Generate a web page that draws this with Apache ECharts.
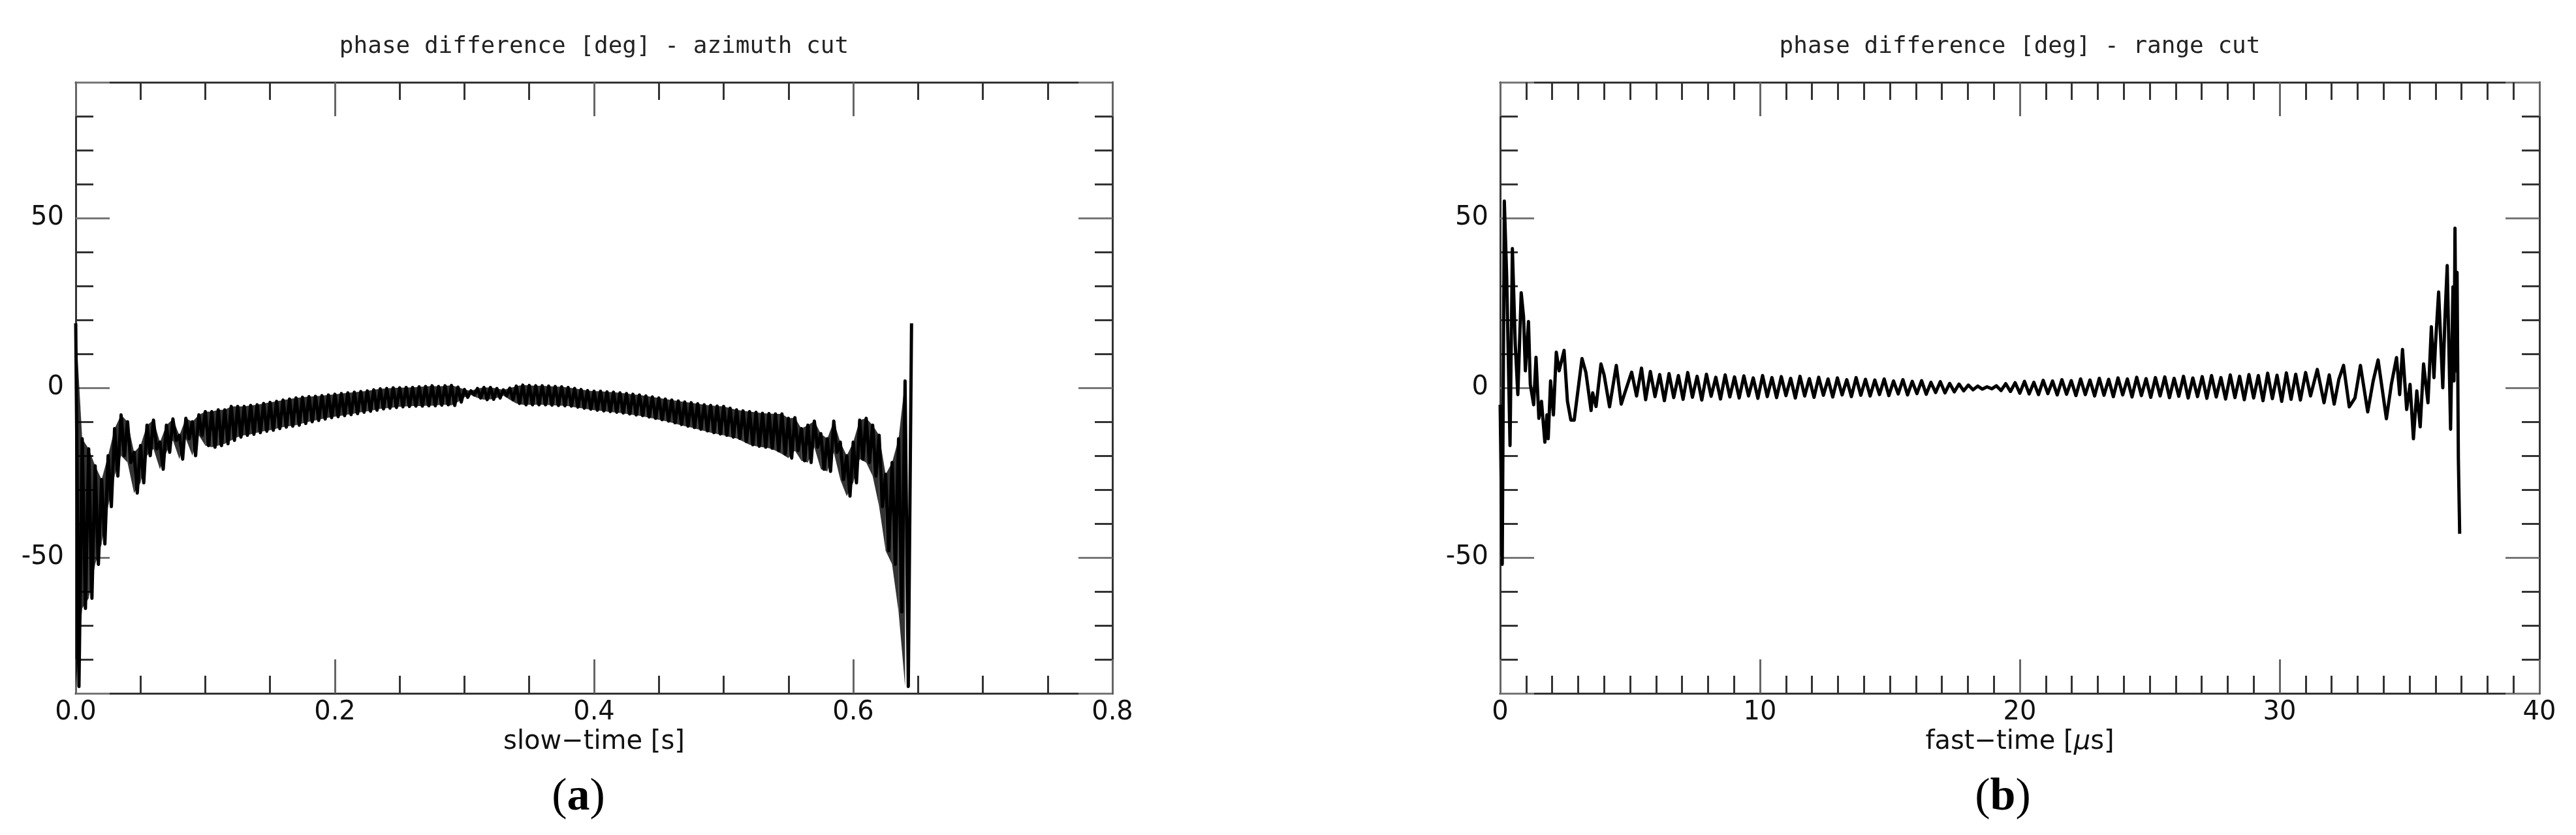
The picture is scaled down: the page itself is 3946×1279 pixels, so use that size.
<!DOCTYPE html>
<html>
<head>
<meta charset="utf-8">
<style>
  html, body { margin: 0; padding: 0; background: #fff; }
  #chart { width: 3946px; height: 1279px; }
</style>
<script src="https://cdn.jsdelivr.net/npm/echarts@6/dist/echarts.min.js"></script>
</head>
<body>
<div id="chart"></div>
<script>
// (a) azimuth cut: top and bottom of the dense band, read every 5 ms
const azStep = 0.005
const azHi = [
  19, -15, -18, -23, -27, -20, -12, -8, -10, -19,
  -17, -11, -9.5, -16, -11, -9.2, -14, -9, -10, -8,
  -7, -7, -6.5, -6.5, -5.5, -5.5, -5.5, -5.2, -5, -4.6,
  -4.3, -4, -3.6, -3.3, -3, -2.8, -2.6, -2.5, -2.3, -2.1,
  -1.9, -1.7, -1.5, -1.3, -1.1, -0.9, -0.6, -0.3, -0.2, 0,
  0, 0.1, 0.1, 0.3, 0.4, 0.6, 0.4, 0.6, 0.7, 0.2,
  -0.5, -0.9, -0.2, 0.1, 0.1, -0.2, -0.6, -0.1, 0.5, 0.8,
  0.7, 0.6, 0.6, 0.5, 0.4, 0.3, 0.1, -0.2, -0.5, -0.8,
  -1, -1, -1.2, -1.3, -1.5, -1.7, -1.9, -2.1, -2.4, -2.7,
  -3, -3.3, -3.6, -3.9, -4.2, -4.4, -4.7, -5, -5.2, -5.4,
  -5.5, -6, -6.5, -6.8, -7, -7.2, -7.5, -7.6, -7.7, -7.7,
  -9, -8.8, -12, -11, -9.8, -13.5, -15, -9.8, -16, -20,
  -16, -9.5, -9, -11, -14, -25.5, -22, -15, 2, 19
]
const azLo = [
  -88, -65, -62, -52, -46, -35, -26, -20, -22, -31,
  -28, -20, -18, -24, -19, -15.5, -21, -15, -20, -14,
  -17, -17.5, -17, -16.5, -15.5, -14.5, -14, -13.7, -13.2, -12.8,
  -12.5, -12, -11.6, -11.3, -11, -10.5, -10, -9.6, -9.2, -8.8,
  -8.5, -8.2, -7.9, -7.6, -7.2, -6.9, -6.6, -6.2, -6, -5.8,
  -5.6, -5.5, -5.4, -5.4, -5.3, -5.3, -5.1, -5, -5.2, -4.2,
  -2.8, -2.1, -3, -3.5, -3.4, -3, -2.3, -3.5, -4.6, -5,
  -5, -5, -5, -5.1, -5.2, -5.3, -5.4, -5.7, -6, -6.3,
  -6.6, -6.8, -7, -7.2, -7.4, -7.7, -8, -8.2, -8.6, -9,
  -9.4, -9.8, -10.3, -10.8, -11.3, -11.7, -12.2, -12.7, -13.2, -13.6,
  -14, -14.5, -14.9, -15.8, -16.8, -17.2, -17.5, -17.8, -18.5, -19.5,
  -20.7, -18.5, -21.5, -22, -17.5, -24, -24.6, -19, -27, -31.9,
  -28, -21, -22, -26, -35, -48, -52, -66, -88
]

// (b) range cut: start and end read peak by peak, middle read every 0.18 us
const rgHeadTime = [0, 0.08, 0.16, 0.25, 0.38, 0.47, 0.58, 0.68, 0.81, 0.9, 0.97, 1.09, 1.16, 1.29, 1.38,
  1.49, 1.59, 1.72, 1.8, 1.85, 1.94, 2.05, 2.16, 2.27, 2.46, 2.59, 2.72, 2.85, 3.04, 3.15, 3.3, 3.5, 3.56,
  3.69, 3.88, 4.0, 4.21, 4.47, 4.66, 4.79, 5.06, 5.25, 5.44]
const rgHeadPhase = [-5, -52, 55, 33, -17, 41, 13, -2, 28, 21, 5, 19.5, 1, -5, 9,
  -9, -4, -16, -8, -15, 2, -8, 10.5, 5, 11, -4, -9.5, -9.5, 2, 8.6, 4.5, -6.7, -1.5,
  -5.5, 7, 3.8, -5.6, 6.6, -4.8, -1.7, 4.6, -2.4, 5.8]
const rgMidStart = 5.6
const rgMidStep = 0.18
const rgMidPhase = [
  -3.5, 4.8, -2.6, 3.9, -3.8, 4.2, -2.9, 3.6, -3.4, 4.5,
  -2.8, 3.4, -3.6, 4.0, -2.5, 3.1, -3.3, 3.8, -2.7, 3.2,
  -3.0, 3.5, -2.4, 2.9, -3.1, 3.6, -2.6, 3.0, -2.9, 3.3,
  -2.3, 2.8, -3.0, 3.4, -2.4, 2.7, -2.8, 3.1, -2.2, 2.6,
  -2.7, 2.9, -2.1, 2.4, -2.6, 3.0, -2.2, 2.5, -2.4, 2.3,
  -2.0, 2.6, -2.3, 2.0, -1.8, 2.4, -2.1, 1.9, -1.7, 2.1,
  -1.9, 1.6, -1.4, 1.8, -1.5, 1.3, -1.2, 1.1, -0.9, 0.8,
  -0.6, 0.5, -0.4, 0.3, -0.3, 0.6, -0.8, 1.2, -1.1, 1.5,
  -1.6, 1.9, -1.8, 1.6, -2.0, 2.2, -1.7, 2.0, -2.1, 2.4,
  -1.9, 2.1, -2.3, 2.6, -2.0, 2.3, -2.4, 2.8, -2.2, 2.5,
  -2.6, 2.9, -2.1, 2.6, -2.7, 3.1, -2.3, 2.7, -2.8, 3.0,
  -2.4, 3.2, -2.9, 2.8, -2.5, 3.4, -3.0, 2.9, -2.6, 3.3,
  -3.1, 3.6, -2.7, 3.0, -3.3, 3.8, -2.9, 3.4, -3.5, 3.9,
  -3.0, 3.6, -3.8, 4.3, -3.2, 3.7, -4.0, 4.4, -3.4, 4.0,
  -3.6
]
const rgTailTime = [31.0, 31.19, 31.45, 31.71, 31.91, 32.1, 32.28, 32.46, 32.68, 32.9,
  33.11, 33.39, 33.6, 33.79, 34.11, 34.3, 34.5, 34.62, 34.73, 34.89,
  35.02, 35.15, 35.28, 35.41, 35.54, 35.71, 35.84, 35.94, 36.0, 36.12,
  36.28, 36.36, 36.45, 36.58, 36.67, 36.71, 36.75, 36.79, 36.83, 36.88, 36.93]
const rgTailPhase = [4.5, -2.4, 5.4, -4.4, 3.8, -4.8, 2.5, 6.6, -5.6, -3,
  6.6, -7.1, 2, 8.2, -9.1, 1, 8.9, -2, 11.3, -6.4,
  1, -15, -0.9, -11.5, 7, -4.4, 18, 3, 13, 28.2,
  0, 20, 36, -12.2, 29.7, 2, 47, 5, 34, -21, -43]

const yLabels = [-50, 0, 50]

// zigzag through the band; the band itself is shaded underneath
const azData = []
azHi.forEach((hi, k) => {
  azData.push([k * azStep, hi])
  if (k < azLo.length) azData.push([k * azStep + azStep / 2, azLo[k]])
})
const azBand = azLo.map((lo, k) => [k * azStep, lo, azHi[k]])

const rgData = []
rgHeadTime.forEach((t, i) => rgData.push([t, rgHeadPhase[i]]))
rgMidPhase.forEach((v, i) => rgData.push([+(rgMidStart + i * rgMidStep).toFixed(3), v]))
rgTailTime.forEach((t, i) => rgData.push([t, rgTailPhase[i]]))

const frame = '#333'
const tickFont = { fontFamily: 'DejaVu Sans', fontSize: 40, color: '#111' }

function xAxes(grid, max, interval, minorSplit, fmt, name) {
  const base = {
    gridIndex: grid, type: 'value', min: 0, max: max, interval: interval,
    axisLine: { show: true, onZero: false, lineStyle: { color: frame, width: 3 } },
    axisTick: { show: true, inside: true, length: 52, lineStyle: { color: '#666', width: 3 } },
    minorTick: { show: true, splitNumber: minorSplit, length: 27, lineStyle: { color: frame, width: 3 } },
    splitLine: { show: false }
  }
  return [
    Object.assign({}, base, {
      position: 'bottom',
      axisLabel: Object.assign({ margin: 10, showMinLabel: true, showMaxLabel: true, formatter: fmt }, tickFont),
      name: name, nameLocation: 'middle', nameGap: 38,
      nameTextStyle: Object.assign({
        rich: { i: { fontFamily: 'DejaVu Sans', fontSize: 40, fontStyle: 'italic', color: '#111' } }
      }, tickFont)
    }),
    Object.assign({}, base, { position: 'top', axisLabel: { show: false } })
  ]
}

function yAxes(grid) {
  const base = {
    gridIndex: grid, type: 'value', min: -90, max: 90, splitNumber: 4,
    axisLine: { show: true, onZero: false, lineStyle: { color: frame, width: 3 } },
    axisTick: { show: true, inside: true, length: 52, lineStyle: { color: '#777', width: 3 } },
    minorTick: { show: true, splitNumber: 5, length: 27, lineStyle: { color: frame, width: 3 } },
    splitLine: { show: false }
  }
  return [
    Object.assign({}, base, {
      position: 'left',
      axisLabel: Object.assign({
        margin: 18,
        formatter: v => (yLabels.indexOf(v) >= 0 ? String(v) : '')
      }, tickFont)
    }),
    Object.assign({}, base, { position: 'right', axisLabel: { show: false } })
  ]
}

function caption(x, letter) {
  return {
    type: 'text', x: x, y: 1222,
    style: {
      text: '{n|(}{b|' + letter + '}{n|)}',
      rich: {
        n: { fontFamily: 'Liberation Serif', fontSize: 70, fill: '#000' },
        b: { fontFamily: 'Liberation Serif', fontSize: 70, fontWeight: 'bold', fill: '#000' }
      },
      align: 'center', verticalAlign: 'middle', textAlign: 'center', textVerticalAlign: 'middle'
    }
  }
}

function title(x, text) {
  return {
    type: 'text', x: x, y: 72,
    style: {
      text: text, fontFamily: 'DejaVu Sans Mono', fontSize: 36, fill: '#222',
      align: 'center', verticalAlign: 'middle', textAlign: 'center', textVerticalAlign: 'middle'
    }
  }
}

// one shaded quad between consecutive band samples
function renderBand(params, api) {
  const i = params.dataIndex
  if (i >= azBand.length - 1) return
  const a = azBand[i]
  const b = azBand[i + 1]
  return {
    type: 'polygon',
    shape: { points: [api.coord([a[0], a[2]]), api.coord([b[0], b[2]]), api.coord([b[0], b[1]]), api.coord([a[0], a[1]])] },
    style: { fill: '#000', opacity: 0.8, stroke: 'none' }
  }
}

const chart = echarts.init(document.getElementById('chart'))
const option = {
  backgroundColor: '#fff',
  animation: false,
  grid: [
    { left: 116, top: 126, width: 1588, height: 936, outerBoundsMode: 'none' },
    { left: 2298, top: 126, width: 1592, height: 936, outerBoundsMode: 'none' }
  ],
  xAxis: [].concat(
    xAxes(0, 0.8, 0.2, 4, v => v.toFixed(1), 'slow−time [s]'),
    xAxes(1, 40, 10, 10, v => String(v), 'fast−time [{i|μ}s]')
  ),
  yAxis: [].concat(yAxes(0), yAxes(1)),
  series: [
    {
      type: 'custom', xAxisIndex: 0, yAxisIndex: 0, data: azBand,
      encode: { x: 0, y: [1, 2] }, renderItem: renderBand, silent: true
    },
    {
      type: 'line', xAxisIndex: 0, yAxisIndex: 0, data: azData,
      symbol: 'none', showSymbol: false,
      lineStyle: { color: '#000', width: 5, join: 'round' }
    },
    {
      type: 'line', xAxisIndex: 2, yAxisIndex: 2, data: rgData,
      symbol: 'none', showSymbol: false,
      lineStyle: { color: '#000', width: 5, join: 'round' }
    }
  ],
  graphic: [
    title(910, 'phase difference [deg] - azimuth cut'),
    title(3094, 'phase difference [deg] - range cut'),
    caption(886, 'a'),
    caption(3068, 'b')
  ]
}
chart.setOption(option)
</script>
</body>
</html>
